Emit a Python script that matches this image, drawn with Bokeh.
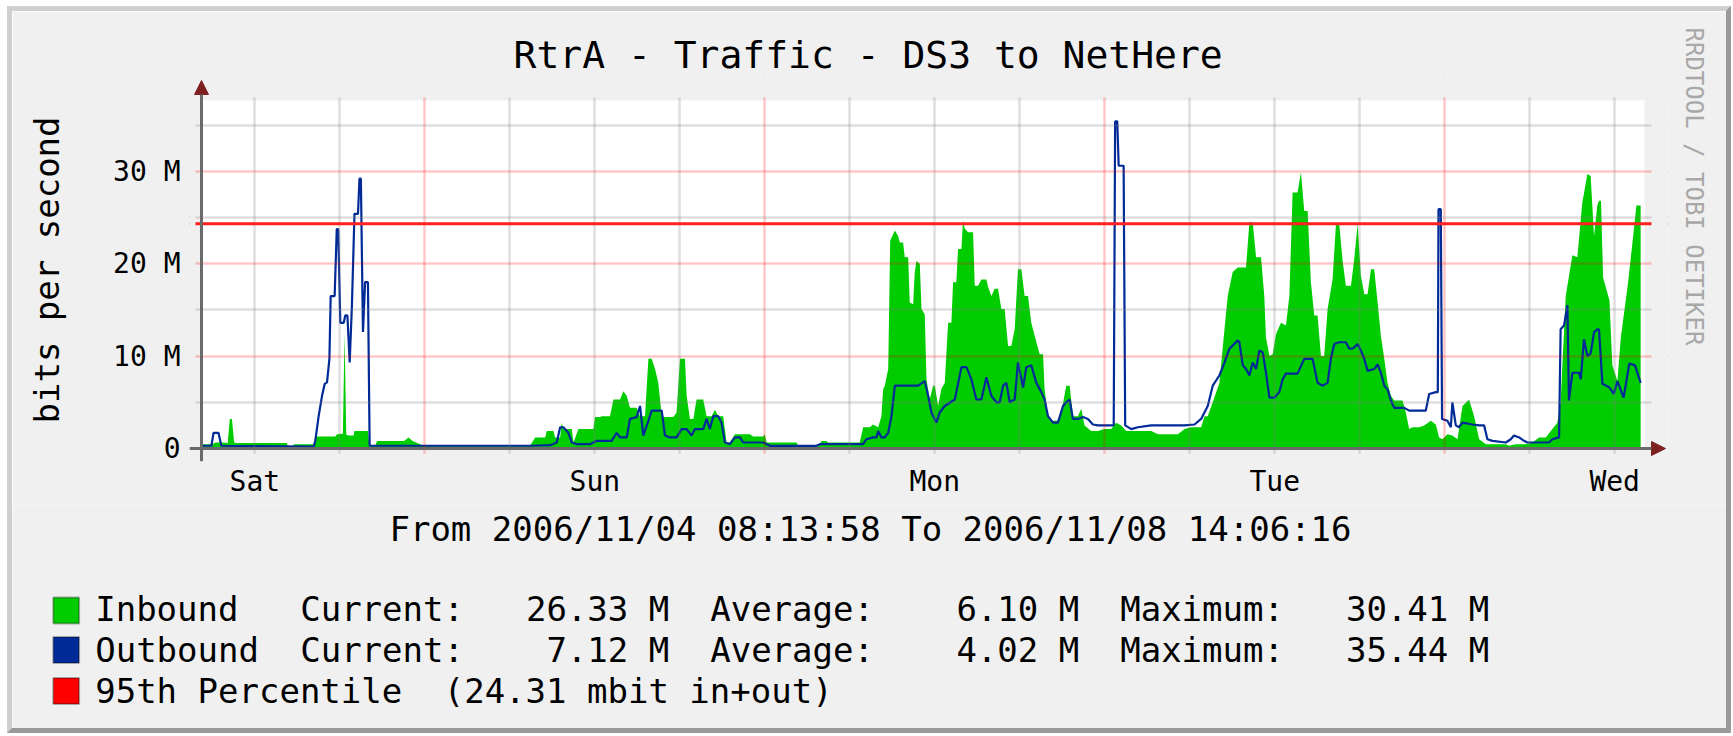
from datetime import datetime
from bokeh.plotting import figure
from bokeh.layouts import column
from bokeh.models import (Range1d, FixedTicker, Label, Arrow, NormalHead, Span,
                          BoxAnnotation, Title)
from bokeh.embed import file_html
from bokeh.resources import INLINE

# ---------------- data ----------------
START = datetime(2006, 11, 4, 8, 13, 58)
END = datetime(2006, 11, 8, 14, 6, 16)
FIRST_NOON = datetime(2006, 11, 4, 12, 0, 0)

title_text = "RtrA - Traffic - DS3 to NetHere"
y_label = "bits per second"
day_labels = ["Sat", "Sun", "Mon", "Tue", "Wed"]
y_ticks = [0, 10, 20, 30]
y_minor_ticks = [5, 15, 25, 35]
y_tick_labels = ["0", "10 M", "20 M", "30 M"]

# inbound (Mbit/s), hours since START
in_hours = [0.05, 0.75, 0.99, 1.46, 1.85, 2.0, 2.15, 2.3, 2.4, 4.0, 6.04, 6.1, 6.45, 6.51, 7.92,
            8.04, 9.45, 9.57, 9.98, 10.1, 10.22, 10.39, 10.74, 10.79, 11.75, 11.85, 12.27, 12.4,
            14.3, 14.62, 14.9, 15.68, 23.2,
            23.55, 24.26, 24.38, 24.85, 24.96, 25.32, 25.43, 25.55, 26.14, 26.26, 26.61, 27.67,
            27.78, 28.14, 28.25, 28.84, 29.08, 29.55, 29.78, 30.02, 30.25, 30.72, 30.96, 31.31,
            31.55, 31.78, 32.02, 32.25, 32.49, 32.72, 33.31, 33.54, 33.78, 34.13, 34.25, 34.48,
            34.72, 34.95, 35.42, 35.66, 36.01, 36.25, 36.48, 36.83, 37.07, 37.30, 37.66, 38.71,
            38.95, 39.65, 39.77, 39.89, 42.01, 42.1, 43.65, 43.77, 44.12, 44.24, 46.47, 46.71,
            47.18, 47.41, 47.77, 48.0, 48.12,
            48.24, 48.48, 48.62, 48.95, 49.18, 49.30, 49.53, 49.65, 49.89, 50.0, 50.24, 50.35,
            50.47, 50.71, 50.83, 51.06, 51.18, 51.41, 51.65, 51.77, 52.0, 52.24, 52.47, 52.71,
            52.94, 53.06, 53.29, 53.41, 53.65, 53.76, 53.88, 54.12, 54.47, 54.59, 54.82, 55.06,
            55.41, 55.53, 55.76, 56.0, 56.23, 56.47, 56.70, 56.94, 57.17, 57.41, 57.64, 57.88,
            58.11, 58.35, 58.58, 58.94, 59.17, 59.41, 59.52, 59.76, 59.99, 60.46, 60.70, 61.05,
            61.29, 61.52, 61.87, 62.11, 62.34, 62.81, 63.28, 63.76, 64.22, 64.58, 64.93, 65.28,
            67.05, 67.52, 68.93, 69.40, 69.87, 70.57, 70.81, 71.04, 71.39, 71.86, 72.22, 72.45,
            72.80, 73.16,
            73.27, 73.74, 73.98, 74.21, 74.45, 74.80, 75.03, 75.15, 75.39, 75.62, 75.86, 76.21,
            76.56, 76.80, 77.03, 77.38, 77.62, 77.85, 78.09, 78.32, 78.56, 78.79, 79.03, 79.26,
            79.50, 79.85, 80.09, 80.32, 80.56, 80.79, 81.15, 81.38, 81.62, 81.85, 82.09, 82.32,
            82.56, 82.79, 83.03, 83.26, 83.50, 83.73, 83.97, 84.20, 84.79, 85.02, 85.26, 85.49,
            85.96, 86.32, 86.79, 87.14, 87.37, 87.61, 87.96, 88.31, 88.67, 89.02, 89.49, 89.84,
            90.20, 90.67, 92.08, 92.31, 92.78, 93.49, 93.96, 94.43, 94.90, 95.37, 95.72, 95.95,
            96.31, 96.78, 97.13, 97.48, 97.84, 98.07, 98.31, 98.54, 98.66, 98.8, 98.95, 99.4,
            99.6, 99.96, 100.2, 100.7, 101.0, 101.3, 101.6]
in_mbps = [0.45, 0.45, 0.65, 0.65, 0.6, 3.2, 3.2, 0.7, 0.6, 0.6, 0.6, 0.0, 0.0, 0.45, 0.45,
           1.3, 1.3, 1.55, 1.6, 12.5, 1.5, 1.4, 1.4, 1.9, 1.9, 0.3, 0.36, 0.8,
           0.8, 1.2, 0.8, 0.3, 0.3,
           1.2, 1.2, 1.9, 1.9, 1.2, 1.2, 2.8, 2.1, 2.1, 0.65, 2.1, 2.1,
           3.4, 3.4, 3.5, 3.5, 5.3, 5.3, 6.2, 5.7, 4.4, 4.4, 3.5, 3.5,
           9.7, 9.7, 8.6, 7.1, 3.5, 3.4, 3.4, 3.9, 9.7, 9.7, 5.7, 3.2,
           3.2, 5.3, 5.3, 3.5, 3.5, 4.2, 3.5, 3.5, 0.65, 0.65, 1.55, 1.55,
           1.3, 1.3, 1.55, 0.65, 0.65, 0.36, 0.36, 0.8, 0.8, 0.65, 0.65, 2.3,
           2.3, 2.6, 2.3, 3.5, 6.4,
           6.8, 8.6, 22.5, 23.6, 23.0, 22.3, 22.3, 20.7, 20.7, 15.8, 15.6, 19.0,
           20.3, 20.0, 15.1, 14.5, 7.5, 5.3, 6.8, 6.8, 4.6, 6.5, 7.1, 13.6,
           13.6, 18.0, 18.0, 21.6, 21.6, 24.7, 23.8, 23.4, 23.4, 17.6, 17.6, 18.3,
           18.3, 17.5, 16.5, 17.3, 17.3, 15.1, 15.1, 11.1, 11.1, 12.9, 19.4, 19.4,
           16.5, 16.5, 13.6, 11.5, 10.2, 10.2, 6.4, 3.5, 3.0, 3.0, 3.9, 6.8,
           6.8, 3.5, 3.5, 4.3, 2.5, 1.9, 1.9, 2.1, 2.1, 2.8, 2.5, 1.9,
           1.9, 1.55, 1.55, 2.1, 2.3, 2.3, 3.5, 3.5, 5.0, 7.1, 12.9, 16.5,
           19.1, 19.6,
           19.6, 19.6, 24.5, 24.5, 20.7, 20.7, 16.5, 12.0, 10.0, 10.2, 12.4, 13.6,
           13.3, 16.5, 27.7, 27.7, 29.9, 25.7, 25.7, 18.0, 14.4, 14.4, 10.0, 10.0,
           15.1, 18.3, 24.3, 24.3, 20.3, 17.6, 17.6, 20.5, 24.3, 18.7, 16.7, 16.7,
           19.4, 19.4, 15.8, 12.2, 9.7, 7.1, 5.7, 5.2, 5.2, 3.9, 2.1, 2.3,
           2.3, 2.5, 3.0, 2.6, 1.2, 1.0, 1.55, 1.4, 1.0, 4.6, 5.3, 3.5,
           1.0, 0.47, 0.47, 0.3, 0.47, 0.47, 0.65, 1.2, 1.2, 2.1, 2.8, 5.0,
           16.5, 20.9, 20.7, 26.6, 29.7, 29.5, 23.0, 26.3, 26.8, 26.8, 18.5, 16.0,
           9.0, 7.3, 12.0, 17.8, 22.0, 26.3, 26.3]

# outbound (Mbit/s), hours since START
out_hours = [0.05, 0.7, 0.85, 1.2, 1.4, 7.92, 8.04, 8.27, 8.51, 8.7, 8.86, 9.03, 9.12, 9.40,
             9.55, 9.65, 9.80, 10.04, 10.15, 10.30, 10.46, 10.62, 10.80, 11.05, 11.15, 11.25,
             11.40, 11.55, 11.75, 11.87, 23.2,
             24.62, 25.08, 25.32, 25.55, 25.90, 26.14, 26.49, 27.43, 27.90, 28.96, 29.31, 29.55,
             30.02, 30.25, 30.72, 30.96, 31.19, 31.55, 31.78, 32.49, 32.72, 33.07, 33.54, 33.90,
             34.25, 34.60, 34.84, 35.42, 35.66, 35.89, 36.13, 36.48, 36.71, 36.95, 37.30, 37.66,
             38.01, 38.24, 39.65, 40.13, 43.42, 43.65, 46.71, 46.94, 47.41, 47.65, 47.77, 48.0,
             48.24, 48.48, 48.71, 48.95, 50.59, 51.06, 51.30, 51.53, 51.88, 52.12, 52.47, 53.18,
             53.65, 54.0, 54.35, 54.70, 55.06, 55.41, 55.76, 56.12, 56.35, 56.59, 56.82, 57.06,
             57.41, 57.64, 58.0, 58.23, 58.58, 58.94, 59.29, 59.52, 59.76, 60.11, 60.46, 60.82,
             61.05, 61.29, 61.52, 61.87, 62.23, 62.58, 62.93, 63.28, 64.22, 64.40, 64.50, 64.65,
             64.75, 65.10, 65.21, 65.64, 66.10, 67.05, 69.40, 70.10, 70.57, 71.04, 71.39, 71.86,
             72.22, 72.57, 73.16,
             73.27, 73.51, 73.74, 73.98, 74.21, 74.45, 74.68, 74.92, 75.15, 75.39, 75.74, 76.09,
             76.33, 76.56, 77.38, 77.85, 78.44, 78.79, 79.15, 79.50, 79.73, 79.97, 80.32, 80.79,
             81.03, 81.26, 81.62, 81.85, 82.09, 82.32, 82.79, 83.03, 83.26, 83.50, 83.73, 83.97,
             84.20, 84.91, 85.26, 86.43, 86.67, 87.14, 87.28, 87.33, 87.49, 87.58, 87.96, 88.20,
             88.31, 88.55, 88.78, 89.02, 89.73, 90.20, 90.55, 90.78, 91.14, 92.08, 92.43, 92.66,
             93.02, 93.37, 93.60, 95.13, 95.37, 95.84, 95.95, 96.19, 96.43, 96.54, 96.78, 97.25,
             97.37, 97.60, 97.84, 98.07, 98.31, 98.54, 98.66, 98.9, 99.4, 99.7, 99.96, 100.4,
             100.8, 101.2, 101.6]
out_mbps = [0.3, 0.3, 1.7, 1.7, 0.3, 0.2, 0.9, 3.5, 5.7, 7.0, 7.15, 9.7, 16.5, 16.5,
            23.75, 23.75, 13.6, 13.6, 14.4, 14.4, 9.3, 15.5, 25.4, 25.4, 29.2, 29.2,
            12.6, 18.0, 18.0, 0.3, 0.3,
            0.36, 0.65, 2.3, 2.3, 1.7, 0.65, 0.47, 0.47, 0.83, 0.83, 1.7, 1.2,
            1.2, 3.2, 3.4, 4.6, 1.4, 3.0, 4.1, 4.1, 1.4, 1.2, 1.2, 2.1,
            2.1, 1.4, 2.1, 2.1, 3.2, 2.1, 3.5, 3.5, 2.8, 0.65, 0.47, 1.2,
            1.2, 0.65, 0.65, 0.29, 0.29, 0.47, 0.47, 1.0, 1.2, 1.2, 1.9, 1.2,
            1.2, 1.7, 3.5, 6.8, 6.8, 7.3, 5.7, 3.9, 2.8, 3.9, 4.6, 5.3,
            8.8, 8.8, 7.5, 5.3, 5.3, 7.7, 5.7, 5.0, 5.0, 6.8, 7.1, 5.0,
            5.3, 9.3, 6.6, 8.8, 9.0, 7.1, 6.1, 5.3, 3.5, 2.8, 2.8, 4.6,
            5.0, 5.3, 3.2, 3.2, 3.4, 3.2, 2.6, 2.5, 2.5, 2.5, 35.4, 35.4,
            30.6, 30.6, 2.5, 2.1, 2.3, 2.5, 2.5, 2.6, 3.2, 4.6, 6.8, 7.9,
            9.3, 10.8, 11.7,
            11.5, 9.0, 8.6, 7.9, 9.3, 8.6, 10.6, 10.4, 8.2, 5.5, 5.5, 6.1,
            7.5, 8.1, 8.1, 9.7, 9.7, 7.1, 6.8, 7.1, 9.7, 11.3, 11.5, 11.5,
            10.8, 10.8, 11.3, 10.6, 9.7, 8.4, 8.6, 9.1, 8.2, 6.8, 6.4, 5.2,
            4.4, 4.4, 4.1, 4.1, 5.9, 6.1, 6.1, 25.9, 25.9, 3.2, 3.0, 2.3,
            5.0, 2.5, 2.3, 2.8, 2.6, 2.5, 2.5, 1.0, 0.83, 0.65, 1.0, 1.4,
            1.2, 0.83, 0.65, 0.65, 1.0, 1.2, 12.9, 13.3, 15.5, 5.2, 8.2, 8.2,
            7.5, 11.8, 10.0, 10.3, 12.6, 12.9, 12.9, 7.0, 6.6, 5.9, 7.3, 5.5,
            9.2, 9.0, 7.1]

pct95_mbit = 24.31
legend_names = ["Inbound", "Outbound"]
legend_current = [26.33, 7.12]
legend_average = [6.10, 4.02]
legend_maximum = [30.41, 35.44]
legend_colors = ["#00CC00", "#002A97", "#FF0000"]
pct_text = "95th Percentile"
pct_note = "(24.31 mbit in+out)"
watermark = "RRDTOOL / TOBI OETIKER"

# ---------------- geometry (page pixels) ----------------
SPAN_H = (END - START).total_seconds() / 3600.0
YMAX = 37.66
noon0 = (FIRST_NOON - START).total_seconds() / 3600.0
noons = [noon0 + 24 * k for k in range(5)]
midnights = [noon0 + 12 + 24 * k for k in range(4)]
six_hourly = [noon0 + 6 * k for k in range(17)]

MX, MY = 7, 6            # outer margin of the whole graphic
BW = 5                   # frame border width
W = 1724                 # outer width (border-box)
H_MAIN, H_FOOT = 499, 228
CX, CY = MX + BW, MY + BW    # canvas origin of the main figure
PL, PR, PT, PB = 201, 1644, 100, 448     # data area (white) on the page
FL, FR, FT, FB = 189, 1667, 78, 461      # drawing frame on the page (incl. arrows)
MONO = "DejaVu Sans Mono"


def dx(X):
    return (X - PL) / (PR - PL) * SPAN_H


def dy(Y):
    return (PB - Y) / (PB - PT) * YMAX


p = figure(width=W, height=H_MAIN, output_backend="svg", toolbar_location=None,
           x_range=Range1d(dx(FL), dx(FR)), y_range=Range1d(dy(FB), dy(FT)),
           min_border_left=FL - CX, min_border_right=W - (FR - CX),
           min_border_top=FT - CY, min_border_bottom=H_MAIN - (FB - CY))
p.frame_align = False
p.styles = {"border-style": "solid", "border-width": "5px 5px 0px 5px",
            "border-color": "#CFCFCF #9A9A9A #9A9A9A #CFCFCF"}
p.background_fill_color = "#F0F0F0"
p.border_fill_color = "#F0F0F0"
p.outline_line_color = None

# white graph area
p.add_layout(BoxAnnotation(left=0, right=SPAN_H, bottom=0, top=YMAX, fill_color="#FFFFFF",
                           fill_alpha=1.0, line_color=None, level="underlay"))

# data
p.varea(x=in_hours, y1=0, y2=in_mbps, fill_color="#00CC00")
p.line(x=out_hours, y=out_mbps, line_color="#002A97", line_width=2.2)

# grids (drawn over the data, like rrdtool)
p.xgrid.ticker = FixedTicker(ticks=midnights, minor_ticks=[t for t in six_hourly if t not in midnights])
p.ygrid.ticker = FixedTicker(ticks=[10, 20, 30], minor_ticks=y_minor_ticks)
for g in (p.xgrid, p.ygrid):
    g.level = "guide"
    g.grid_line_color = "#FF0000"
    g.grid_line_alpha = 0.22
    g.grid_line_width = 2.5
    g.minor_grid_line_color = "#808080"
    g.minor_grid_line_alpha = 0.25
    g.minor_grid_line_width = 2.5

# axes
xa = p.xaxis[0]
xa.ticker = FixedTicker(ticks=noons, minor_ticks=[])
xa.major_label_overrides = {t: lab for t, lab in zip(noons, day_labels)}
ya = p.yaxis[0]
ya.ticker = FixedTicker(ticks=y_ticks, minor_ticks=[])
ya.major_label_overrides = {t: lab for t, lab in zip(y_ticks, y_tick_labels)}
for ax in (xa, ya):
    ax.axis_line_color = None
    ax.major_tick_line_color = None
    ax.minor_tick_line_color = None
    ax.major_tick_in = 0
    ax.major_tick_out = 0
    ax.minor_tick_in = 0
    ax.minor_tick_out = 0
    ax.major_label_text_font = MONO
    ax.major_label_text_font_size = "28px"
    ax.major_label_text_color = "#000000"
xa.major_label_standoff = 3
ya.major_label_standoff = 9
ya.axis_label = y_label
ya.axis_label_text_font = MONO
ya.axis_label_text_font_size = "34px"
ya.axis_label_text_font_style = "normal"
ya.axis_label_text_color = "#000000"
ya.axis_label_standoff = 43

# 95th percentile rule
p.add_layout(Span(location=pct95_mbit, dimension="width", line_color="#FF2020", line_width=3))

# hide grid overhang outside the graph area
BG = "#F0F0F0"
for l, r, b, t in [(FL, 195, FB, FT), (1651, FR, FB, FT), (FL, FR, 97, FT), (FL, FR, FB, 453)]:
    p.add_layout(BoxAnnotation(left=dx(l), right=dx(r), bottom=dy(b), top=dy(t),
                               fill_color=BG, fill_alpha=1.0, line_color=None))

# axis lines with arrows
AX_COL = "#6A6A6A"
ARR_COL = "#7F2020"
p.add_layout(Arrow(x_start=0, y_start=dy(461), x_end=0, y_end=dy(80),
                   line_color=AX_COL, line_width=3,
                   end=NormalHead(size=14, fill_color=ARR_COL, line_color=ARR_COL)))
p.add_layout(Arrow(x_start=dx(189), y_start=0, x_end=dx(1665), y_end=0,
                   line_color=AX_COL, line_width=3,
                   end=NormalHead(size=14, fill_color=ARR_COL, line_color=ARR_COL)))

# title
p.title.text = title_text
p.title.align = "left"
p.title.offset = 513 - FL
p.title.standoff = 4
p.title.text_font = MONO
p.title.text_font_size = "38px"
p.title.text_font_style = "normal"
p.title.text_color = "#000000"

# watermark on the right
p.add_layout(Title(text=watermark, align="left", offset=27 - FT, standoff=24,
                   text_font=MONO, text_font_size="24px", text_font_style="normal",
                   text_color="#A8A8A8"), "right")

# ---------------- footer (legend) ----------------
FY0 = MY + H_MAIN          # page y of footer top
f = figure(width=W, height=H_FOOT, output_backend="svg", toolbar_location=None,
           x_range=Range1d(CX, CX + W), y_range=Range1d(FY0 + H_FOOT, FY0),
           x_axis_location=None, y_axis_location=None,
           min_border=0, min_border_left=0, min_border_right=0,
           min_border_top=0, min_border_bottom=0)
f.frame_align = False
f.title.visible = False
f.styles = {"border-style": "solid", "border-width": "0px 5px 5px 5px",
            "border-color": "#CFCFCF #9A9A9A #9A9A9A #CFCFCF"}
f.background_fill_color = BG
f.border_fill_color = BG
f.outline_line_color = None
f.grid.visible = False

TEXT_DY = -12   # baseline correction for the SVG text placement
span_text = "From %s To %s" % (START.strftime("%Y/%m/%d %H:%M:%S"), END.strftime("%Y/%m/%d %H:%M:%S"))
f.add_layout(Label(x=870, y=540 + TEXT_DY, text=span_text, text_align="center",
                   text_baseline="alphabetic", text_font=MONO, text_font_size="34px",
                   text_color="#000000"))

TX0, ADV = 94.7, 20.5
row_base = [620, 661, 702]
box_mid = [610, 649.5, 690.5]


def txt(c, yb, s, align="left"):
    f.add_layout(Label(x=TX0 + c * ADV, y=yb + TEXT_DY, text=s, text_align=align,
                       text_baseline="alphabetic", text_font=MONO, text_font_size="34px",
                       text_color="#000000"))


for i in range(3):
    f.add_layout(BoxAnnotation(left=52.8, right=78.6, top=box_mid[i] - 13,
                               bottom=box_mid[i] + 13, fill_color=legend_colors[i],
                               fill_alpha=1.0, line_color="#000000", line_width=2))

for i in range(2):
    yb = row_base[i]
    txt(0, yb, legend_names[i])
    txt(10, yb, "Current:")
    txt(28, yb, "%.2f M" % legend_current[i], "right")
    txt(30, yb, "Average:")
    txt(48, yb, "%.2f M" % legend_average[i], "right")
    txt(50, yb, "Maximum:")
    txt(68, yb, "%.2f M" % legend_maximum[i], "right")
txt(0, row_base[2], pct_text)
txt(17, row_base[2], pct_note)

layout = column(p, f, spacing=0, styles={"margin-left": "%dpx" % MX, "margin-top": "%dpx" % MY})
open("out.html", "w").write(file_html(layout, INLINE))
